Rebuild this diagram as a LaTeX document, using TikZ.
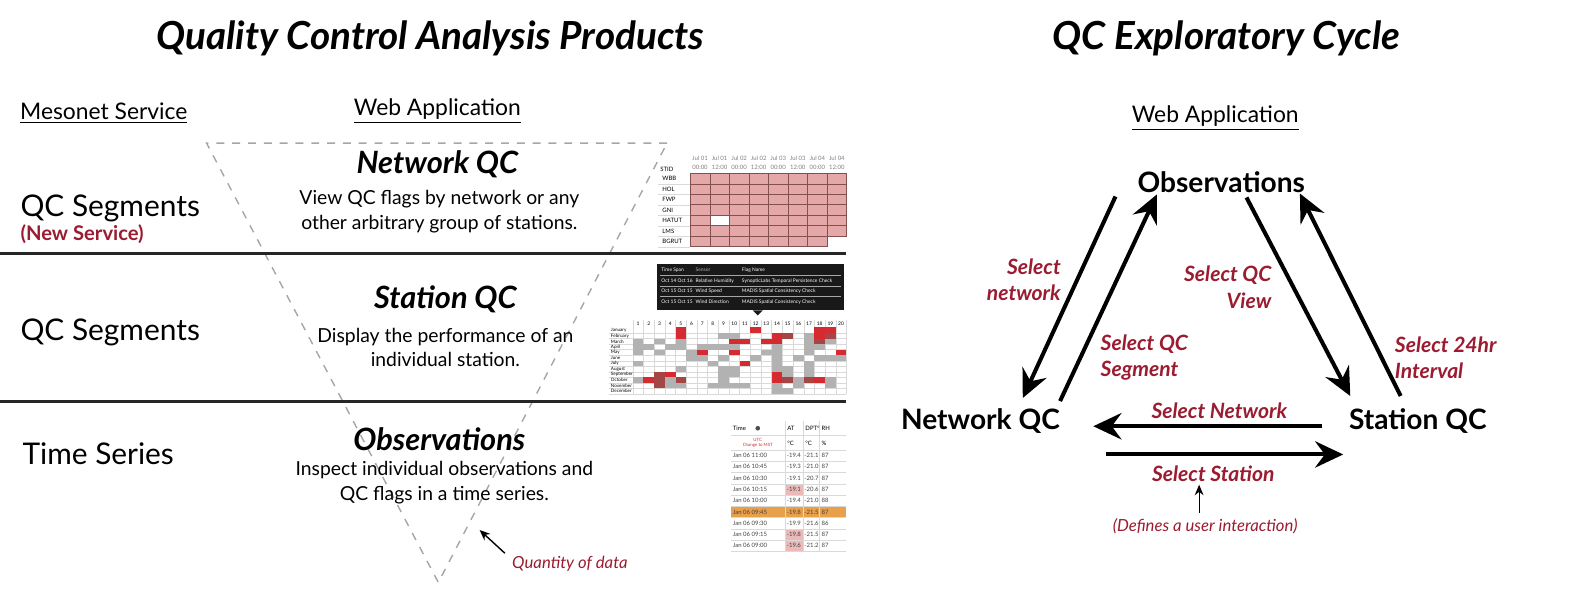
\documentclass[tikz,border=0pt]{standalone}
\usepackage{fontspec}
\setmainfont{Lato}
\usetikzlibrary{arrows.meta,positioning}
\definecolor{qcred}{RGB}{155,27,48}
\definecolor{cellpink}{RGB}{229,168,168}
\definecolor{cellline}{RGB}{130,80,80}
\definecolor{cellgrey}{RGB}{178,178,178}
\definecolor{cellred}{RGB}{212,42,48}
\definecolor{celldark}{RGB}{165,70,70}
\definecolor{obsorange}{RGB}{233,160,75}
\definecolor{obspink}{RGB}{236,185,185}
\newcommand{\fsz}[2]{\fontsize{#1}{#2}\selectfont}

\begin{document}
\begin{tikzpicture}[x=0.02015cm, y=-0.02015cm,
    every node/.style={inner sep=0pt},
    title/.style={font=\fsz{22}{26}\bfseries\itshape},
    underhead/.style={font=\fsz{13}{15}},
    service/.style={font=\fsz{17}{20}, anchor=west},
    product/.style={font=\fsz{17.5}{20}\bfseries\itshape},
    desc/.style={font=\fsz{11}{13.8}, align=center},
    cycle/.style={font=\fsz{16}{18}\bfseries},
    action/.style={font=\fsz{12}{14.9}\bfseries\itshape, text=qcred},
    note/.style={font=\fsz{9.5}{11}\itshape, text=qcred},
    divider/.style={line width=1.7pt, black!85},
    dashline/.style={gray!70, line width=0.8pt, dash pattern=on 4.5pt off 4.5pt},
    bigarrow/.style={line width=2.3pt, -{Stealth[length=16pt, width=15pt, inset=5.5pt]}},
    thinarrow/.style={line width=0.8pt, -{Stealth[length=6pt, width=5pt]}},
    tiny/.style={font=\fsz{3.4}{4}},
    tipfont/.style={font=\fsz{2.8}{3}, anchor=west},
    obsfont/.style={font=\fsz{3.4}{4}, anchor=west, black!75},
    gridline/.style={black!15, line width=0.2pt}
]
\useasboundingbox (0,0) rectangle (1568,589);

% titles
\node[title] (lefttitle) at (427,38) {Quality Control Analysis Products};
\node[title] (righttitle) at (1217,38) {QC Exploratory Cycle};
\node[underhead] (meso) at (103,112) {\underline{Mesonet Service}};
\node[underhead] (webleft) at (434,110) {\underline{Web Application}};
\node[underhead] (webright) at (1206,117) {\underline{Web Application}};

% quantity of data triangle
\coordinate (tl) at (205,142);
\coordinate (tr) at (662,142);
\coordinate (apex) at (435,578);
\draw[dashline] (tr) -- (tl) -- (apex) -- cycle;

% segment dividers
\draw[divider] (0,252) -- (840,252);
\draw[divider] (0,398) -- (840,398);

% left column
\node[service] (seg1) at (20,207) {QC Segments};
\node[font=\fsz{11.5}{13}\bfseries, text=qcred, anchor=west] (newserv) at (20,232) {(New Service)};
\node[service] (seg2) at (20,330) {QC Segments};
\node[service] (tseries) at (22,450) {Time Series};

% products
\node[product] (netqc) at (434,163) {Network QC};
\node[desc] (netdesc) at (436,210) {View QC flags by network or any\\other arbitrary group of stations.};
\node[product] (staqc) at (442,297) {Station QC};
\node[desc] (stadesc) at (442,345) {Display the performance of an\\individual station.};
\node[product] (obsqc) at (436,436) {Observations};
\node[desc] (obsdesc) at (441,479) {Inspect individual observations and\\QC flags in a time series.};

\coordinate (qtail) at (501,549);
\coordinate (qhead) at (476,526);
\draw[thinarrow] (qtail) -- (qhead);
\node[note, anchor=west] (quant) at (508,559) {Quantity of data};

% network table
\node[tiny, anchor=west] (stid) at (655,168) {STID};
\foreach \i in {0,...,7} {
  \pgfmathtruncatemacro{\day}{int(\i/2)+1}
  \pgfmathtruncatemacro{\half}{mod(\i,2)}
  \node[tiny, gray] (jul\i) at (685+19.4*\i+9.7,157) {Jul 0\day};
  \node[tiny, gray] (hr\i) at (685+19.4*\i+9.7,166) {\ifnum\half=0 00:00\else 12:00\fi};
}
\foreach \stn [count=\r from 0] in {WBB,HOL,FWP,GNI,HATUT,LMS,BGRUT} {
  \node[tiny, anchor=west] (stn\r) at (657,172+10.4*\r+5.2) {\stn};
  \draw[gridline] (653,172+10.4*\r+10.4) -- (685,172+10.4*\r+10.4);
  \foreach \c in {0,...,7} {
    \pgfmathtruncatemacro{\skipcell}{(\r==4 && \c==1) || (\r==6 && \c==7)}
    \ifnum\skipcell=0
      \draw[cellline, fill=cellpink, line width=0.3pt]
        (685+19.4*\c,172+10.4*\r) rectangle ++(19.4,10.4);
    \fi
  }
}

% station tooltip
\fill[black!90] (652,262) rectangle (838,308);
\fill[black!90] (747,308) -- (757,308) -- (752,313) -- cycle;
\foreach \yy in {273.5,284,294.5} \draw[gray!70, line width=0.3pt] (655,\yy) -- (835,\yy);
\node[tipfont, white] (tspan) at (656,268) {Time Span};
\node[tipfont, gray!60] (tsens) at (690,268) {Sensor};
\node[tipfont, white] (tflag) at (736,268) {Flag Name};
\foreach \span/\sens/\flag [count=\k] in {Oct 14 Oct 16/Relative Humidity/SynopticLabs Temporal Persistence Check,
    Oct 15 Oct 15/Wind Speed/MADIS Spatial Consistency Check,
    Oct 15 Oct 15/Wind Direction/MADIS Spatial Consistency Check} {
  \node[tipfont, white] at (656,268+10.5*\k) {\span};
  \node[tipfont, white] at (690,268+10.5*\k) {\sens};
  \node[tipfont, white] at (736,268+10.5*\k) {\flag};
}

% station calendar
\foreach \c in {1,...,20} \node[font=\fsz{2.8}{3}] at (628+10.6*\c-5.3,321) {\c};
\foreach \m [count=\r] in {January,February,March,April,May,June,July,August,September,October,November,December} {
  \node[font=\fsz{2.6}{3}, anchor=west] at (606,325+5.5*\r-2.75) {\m};
  \draw[gridline] (604,325+5.5*\r) -- (840,325+5.5*\r);
}
\foreach \c in {0,...,20} \draw[gridline] (628+10.6*\c,318) -- (628+10.6*\c,391);
\foreach \c/\r/\col in {5/1/cellred,12/1/cellred,18/1/cellred,19/1/cellred,
    5/2/cellred,9/2/cellgrey,10/2/cellgrey,14/2/cellred,15/2/celldark,17/2/cellgrey,18/2/cellred,19/2/celldark,
    1/3/cellgrey,3/3/cellgrey,5/3/cellgrey,10/3/cellred,11/3/cellred,13/3/cellred,14/3/cellred,17/3/cellgrey,18/3/celldark,19/3/cellgrey,
    1/4/cellgrey,2/4/cellgrey,4/4/cellgrey,5/4/cellgrey,7/4/cellgrey,8/4/cellgrey,9/4/cellgrey,10/4/cellgrey,14/4/cellgrey,17/4/cellgrey,18/4/cellgrey,
    1/5/cellgrey,3/5/cellgrey,6/5/cellgrey,7/5/cellred,10/5/cellred,13/5/cellgrey,14/5/cellgrey,17/5/cellgrey,20/5/cellred,
    6/6/cellgrey,7/6/cellgrey,9/6/cellgrey,12/6/cellgrey,14/6/cellgrey,16/6/cellgrey,18/6/cellgrey,19/6/cellgrey,20/6/cellgrey,
    1/7/cellgrey,8/7/cellgrey,11/7/cellred,14/7/cellgrey,17/7/cellgrey,
    5/8/cellgrey,9/8/cellgrey,10/8/cellgrey,14/8/cellgrey,15/8/cellgrey,17/8/cellgrey,
    3/9/celldark,4/9/cellred,9/9/cellgrey,10/9/cellgrey,14/9/cellred,15/9/cellgrey,17/9/cellgrey,
    1/10/cellgrey,2/10/cellred,3/10/celldark,4/10/cellgrey,5/10/celldark,9/10/cellgrey,14/10/cellred,15/10/celldark,16/10/cellgrey,17/10/celldark,18/10/cellred,19/10/cellgrey,
    3/11/celldark,4/11/cellgrey,5/11/cellgrey,8/11/cellgrey,9/11/cellgrey,10/11/cellgrey,11/11/cellgrey,14/11/cellgrey,16/11/cellgrey,19/11/cellgrey,
    14/12/cellgrey,15/12/cellgrey} {
  \fill[\col] (628+10.6*\c-10.6,325+5.5*\r-5.5) rectangle ++(10.6,5.5);
}

% observations table
\fill[obsorange] (725,502.5) rectangle (840,513.7);
\foreach \r in {4,8,9} \fill[obspink] (779,446.5+11.2*\r-11.2) rectangle ++(18,11.2);
\foreach \xx in {779,797,813} \draw[gridline] (\xx,418) -- (\xx,547);
\foreach \r in {0,...,9} \draw[gridline] (725,446.5+11.2*\r) -- (840,446.5+11.2*\r);
\draw[gridline] (725,432) -- (840,432);
\node[obsfont, black] (timehd) at (727,425) {Time};
\fill[black!70] (752,425) circle (2.3);
\node[obsfont, black] (athd) at (781,425) {AT};
\node[obsfont, black] (dpthd) at (799,425) {DPT°};
\node[obsfont, black] (rhhd) at (815,425) {RH};
\node[font=\fsz{2.5}{3}, text=cellred, align=center] (utc) at (752,439.5) {UTC\\Change to MST};
\node[obsfont, black] at (781,439.5) {°C};
\node[obsfont, black] at (799,439.5) {°C};
\node[obsfont, black] at (815,439.5) {\%};
\foreach \tm/\at/\dpt/\rh [count=\r] in {11:00/-19.4/-21.1/87,10:45/-19.3/-21.0/87,10:30/-19.1/-20.7/87,
    10:15/-19.1/-20.6/87,10:00/-19.4/-21.0/88,09:45/-19.8/-21.5/87,09:30/-19.9/-21.6/86,
    09:15/-19.8/-21.5/87,09:00/-19.6/-21.2/87} {
  \node[obsfont] at (727,446.5+11.2*\r-5.6) {Jan 06 \tm};
  \node[obsfont] at (780.5,446.5+11.2*\r-5.6) {\at};
  \node[obsfont] at (798,446.5+11.2*\r-5.6) {\dpt};
  \node[obsfont] at (815,446.5+11.2*\r-5.6) {\rh};
}

% exploratory cycle
\node[cycle] (obs) at (1212,181) {Observations};
\node[cycle] (net) at (973,418) {Network QC};
\node[cycle] (sta) at (1407,418) {Station QC};

\coordinate (o2n-a) at (1107,195);
\coordinate (o2n-b) at (1015,395);
\coordinate (n2o-a) at (1052,398);
\coordinate (n2o-b) at (1148,193);
\coordinate (o2s-a) at (1237,196);
\coordinate (o2s-b) at (1340,393);
\coordinate (s2o-a) at (1390,393);
\coordinate (s2o-b) at (1290,192);
\coordinate (s2n-a) at (1312,423);
\coordinate (s2n-b) at (1085,423);
\coordinate (n2s-a) at (1098,451);
\coordinate (n2s-b) at (1333,451);

\draw[bigarrow] (o2n-a) -- (o2n-b);
\draw[bigarrow] (n2o-a) -- (n2o-b);
\draw[bigarrow] (o2s-a) -- (o2s-b);
\draw[bigarrow] (s2o-a) -- (s2o-b);
\draw[bigarrow] (s2n-a) -- (s2n-b);
\draw[bigarrow] (n2s-a) -- (n2s-b);

\node[action, align=right, anchor=east] (selnet) at (1053,278) {Select\\network};
\node[action, align=left, anchor=west] (selseg) at (1092,355) {Select QC\\Segment};
\node[action, align=right, anchor=east] (selview) at (1262,285) {Select QC\\View};
\node[action, align=left, anchor=west] (selint) at (1384,355) {Select 24hr\\Interval};
\node[action] (selnetwork) at (1210,408) {Select Network};
\node[action] (selstation) at (1204,470) {Select Station};
\node[note] (defines) at (1196,522) {(Defines a user interaction)};
\coordinate (uia) at (1190,509);
\coordinate (uib) at (1190,481);
\draw[thinarrow, line width=0.6pt] (uia) -- (uib);
\end{tikzpicture}
\end{document}
